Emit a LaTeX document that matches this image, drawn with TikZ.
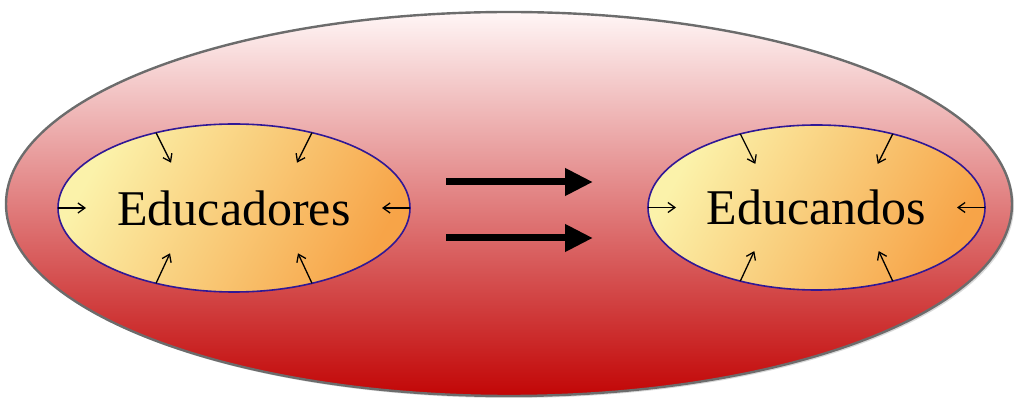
\documentclass[tikz,border=0pt]{standalone}
\usepackage{fontspec}
\setmainfont{Liberation Serif}
\usetikzlibrary{shapes.geometric,arrows.meta,shadows}

\definecolor{pinktop}{RGB}{255,246,246}
\definecolor{redmid}{RGB}{226,130,134}
\definecolor{redbot}{RGB}{194,6,6}
\definecolor{lightyel}{RGB}{251,242,170}
\definecolor{orng}{RGB}{247,164,72}
\definecolor{edgeblue}{RGB}{48,24,150}

\begin{document}
\begin{tikzpicture}[x=1pt,y=1pt,
  group/.style={ellipse,draw=edgeblue,line width=1.6pt,left color=lightyel,right color=orng,shading angle=60,
    inner sep=0pt,outer sep=0pt,font=\fontsize{50}{58}\selectfont},
  inarrow/.style={-{Straight Barb[length=7pt,width=10pt]},line width=1.3pt},
  bigarrow/.style={-{Triangle[length=28pt,width=26pt]},line width=7pt}]
  \useasboundingbox (0,0) rectangle (1019,404);
  % outer ellipse
  \node[ellipse,draw=gray!85!black,line width=2.4pt,top color=pinktop,middle color=redmid,bottom color=redbot,
    minimum width=1006,minimum height=384,
    drop shadow={opacity=0.3,shadow xshift=2pt,shadow yshift=-2pt}] (world) at (509,200) {};
  \node[group,minimum width=352,minimum height=168] (L) at (234,196) {Educadores};
  \node[group,minimum width=337,minimum height=165] (R) at (816.5,196.5) {Educandos};
  \foreach \g in {L,R} {
    \draw[inarrow] (\g.136) -- ++(15,-30);
    \draw[inarrow] (\g.44) -- ++(-15,-30);
    \draw[inarrow] (\g.-136) -- ++(14,30);
    \draw[inarrow] (\g.-44) -- ++(-14,30);
    \draw[inarrow] (\g.180) -- ++(28,0);
    \draw[inarrow] (\g.0) -- ++(-28,0);
  }
  \coordinate (a1) at (446,222);
  \coordinate (b1) at (593,222);
  \coordinate (a2) at (446,166);
  \coordinate (b2) at (593,166);
  \draw[bigarrow] (a1) -- (b1);
  \draw[bigarrow] (a2) -- (b2);
\end{tikzpicture}
\end{document}
